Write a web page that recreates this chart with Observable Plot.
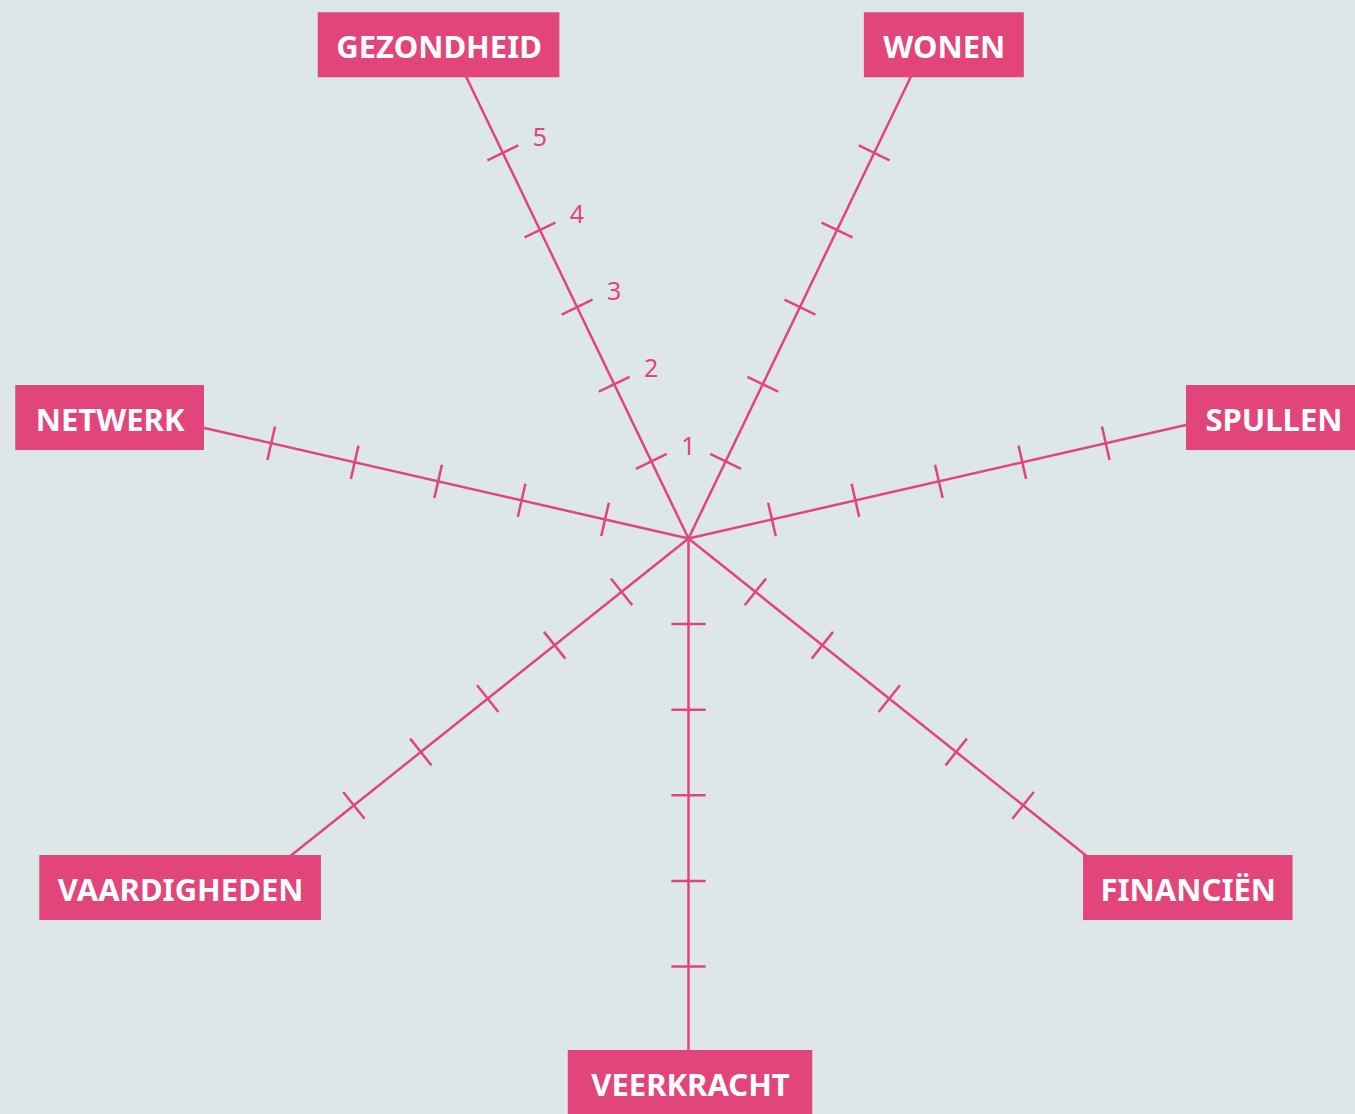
<!DOCTYPE html>
<html><head><meta charset="utf-8">
<script src="https://cdn.jsdelivr.net/npm/d3@7"></script>
<script src="https://cdn.jsdelivr.net/npm/@observablehq/plot@0.6"></script>
<style>html,body{margin:0;padding:0;background:#dde6e8;overflow:hidden}</style>
</head><body><div id="chart"></div>
<script>
// ---- data ----
const categories = ["WONEN", "SPULLEN", "FINANCIËN", "VEERKRACHT", "VAARDIGHEDEN", "NETWERK", "GEZONDHEID"];
const tickValues = [1, 2, 3, 4, 5];
const tickLabels = ["1", "2", "3", "4", "5"];
const axisMax = 6;
const labelledAxis = "GEZONDHEID";

// ---- style / layout ----
const PINK = "#e2457a", BG = "#dde6e8";
const FONT = "'Noto Sans', sans-serif";
const LABEL_SIZE = 31;
const W = 1355, H = 1114, CX = 688, CY = 538, U = 85.6;
const BOX_H = 65, BOX_PAD = 19, TICK_HALF = 0.2, TICK_LABEL_OFF = 0.48;
// box placement relative to axis end (px; ax/ay in half box sizes)
const boxPlace = {
  "WONEN":        {ax: 0,  ox: 33,   ay: -1, oy: 2,    pad: 19},
  "SPULLEN":      {ax: 1,  ox: -2.7, ay: 0,  oy: -6.2, pad: 19},
  "FINANCIËN":    {ax: 1,  ox: -6.5, ay: 1,  oy: -3.2, pad: 17},
  "VEERKRACHT":   {ax: 0,  ox: 2,    ay: 1,  oy: -1.6, pad: 23},
  "VAARDIGHEDEN": {ax: -1, ox: 34.5, ay: 1,  oy: -3.2, pad: 18},
  "NETWERK":      {ax: -1, ox: 16.7, ay: 0,  oy: -6.2, pad: 20},
  "GEZONDHEID":   {ax: 0,  ox: -26.6,ay: -1, oy: 2,    pad: 18}
};

const n = categories.length;
const axes = categories.map((name, i) => ({name, a: (i + 0.5) * 2 * Math.PI / n}));
const spokes = axes.map(d => ({name: d.name, x1: 0, y1: 0, x2: axisMax * Math.sin(d.a), y2: axisMax * Math.cos(d.a)}));
const ticks = axes.flatMap(d => tickValues.map(v => {
  const tx = v * Math.sin(d.a), ty = v * Math.cos(d.a);
  const px = Math.cos(d.a), py = -Math.sin(d.a);
  return {name: d.name, v, x1: tx - TICK_HALF * px, y1: ty - TICK_HALF * py, x2: tx + TICK_HALF * px, y2: ty + TICK_HALF * py};
}));
const la = axes.find(d => d.name === labelledAxis);
const tickText = tickValues.map((v, i) => ({
  text: tickLabels[i],
  x: v * Math.sin(la.a) + TICK_LABEL_OFF * Math.cos(la.a),
  y: v * Math.cos(la.a) - TICK_LABEL_OFF * Math.sin(la.a)
}));

const ctx = document.createElement("canvas").getContext("2d");
ctx.font = `bold ${LABEL_SIZE}px ${FONT}`;

const labelMarks = axes.flatMap(d => {
  const p = boxPlace[d.name];
  const w = ctx.measureText(d.name).width + 2 * (p.pad ?? BOX_PAD);
  const cx = p.ax * w / 2 + p.ox, cy = p.ay * BOX_H / 2 + p.oy;
  const datum = [{name: d.name, ex: axisMax * Math.sin(d.a), ey: axisMax * Math.cos(d.a)}];
  return [
    Plot.rect(datum, {x1: "ex", x2: "ex", y1: "ey", y2: "ey", fill: PINK,
      insetLeft: cx - w / 2, insetRight: -cx - w / 2, insetTop: cy - BOX_H / 2, insetBottom: -cy - BOX_H / 2}),
    Plot.text(datum, {x: "ex", y: "ey", text: "name", dx: cx, dy: cy + 3, fill: "white",
      fontSize: LABEL_SIZE, fontWeight: "bold", fontFamily: FONT, lineAnchor: "middle", textAnchor: "middle"})
  ];
});

const chart = Plot.plot({
  width: W, height: H, margin: 0,
  x: {domain: [-CX / U, (W - CX) / U], axis: null},
  y: {domain: [-(H - CY) / U, CY / U], axis: null},
  style: {background: BG, overflow: "hidden"},
  marks: [
    Plot.link(spokes, {x1: "x1", y1: "y1", x2: "x2", y2: "y2", stroke: PINK, strokeWidth: 2.5}),
    Plot.link(ticks, {x1: "x1", y1: "y1", x2: "x2", y2: "y2", stroke: PINK, strokeWidth: 2.5}),
    Plot.text(tickText, {x: "x", y: "y", text: "text", fill: PINK, fontSize: 25, fontFamily: FONT, dy: 3}),
    ...labelMarks
  ]
});
document.getElementById("chart").appendChild(chart);
</script></body></html>
